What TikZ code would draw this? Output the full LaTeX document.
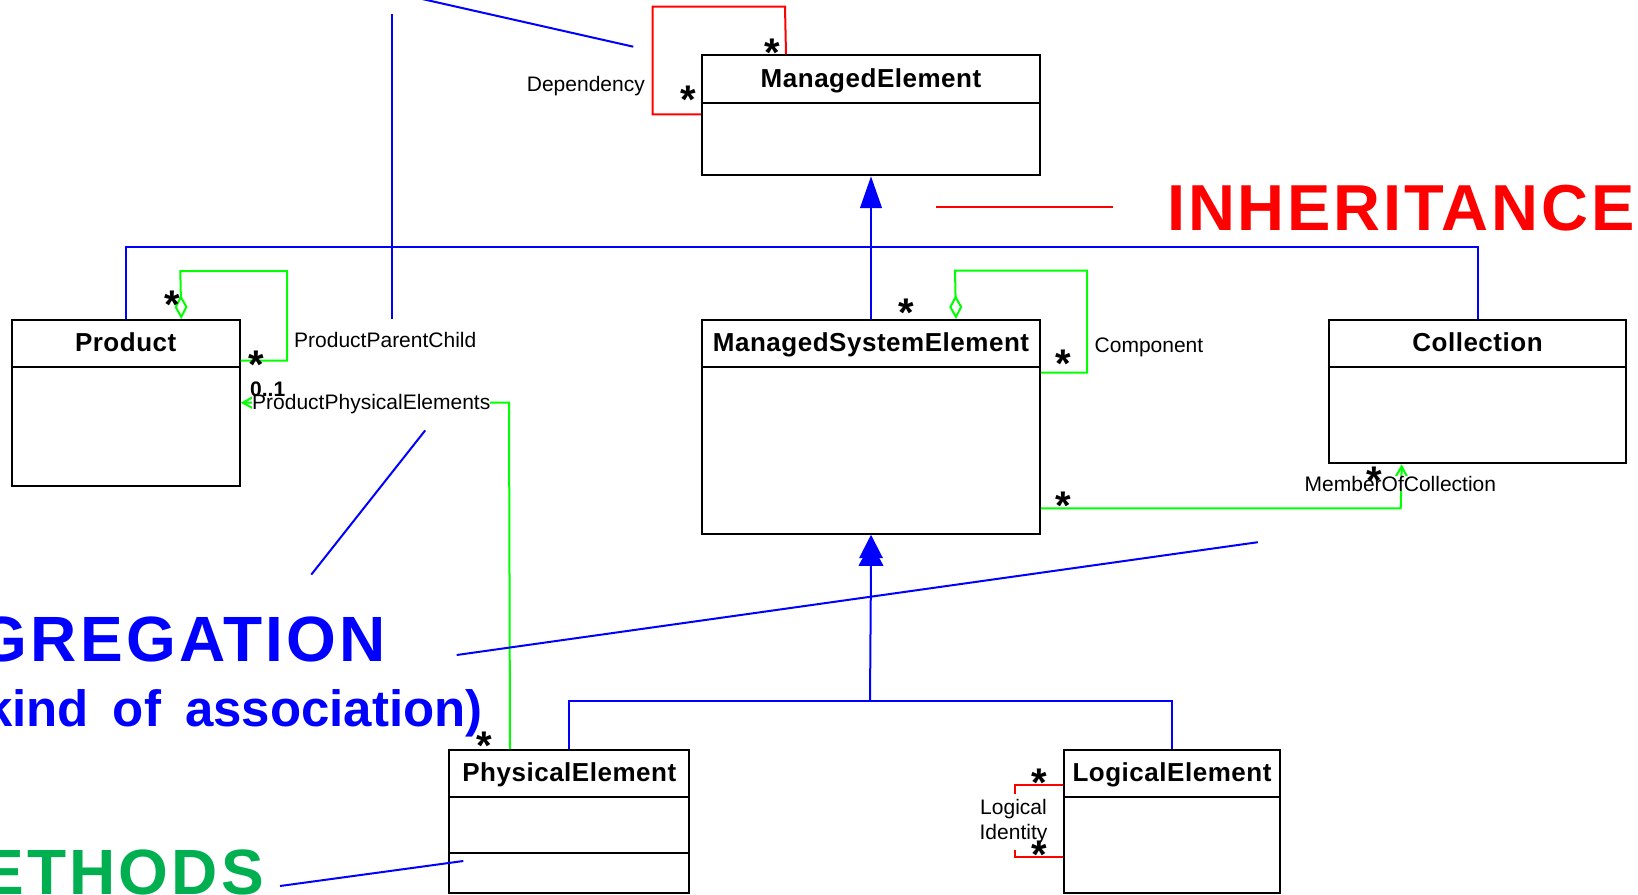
\documentclass[tikz,border=0pt]{standalone}
\usepackage{fontspec}
\setmainfont{Liberation Sans}
\newfontfamily\bigsp{Liberation Sans}[LetterSpace=5]
\newfontfamily\inhsp{Liberation Sans}[LetterSpace=4.3]
\newfontfamily\subsp{Liberation Sans}[WordSpace=1.7]
\newfontfamily\clsfont{Liberation Sans}[LetterSpace=2]
\usepackage{graphicx}
\usetikzlibrary{arrows.meta}
\definecolor{lgreen}{RGB}{0,255,0}
\definecolor{mgreen}{RGB}{0,176,80}
\definecolor{ublue}{RGB}{0,0,255}
\definecolor{ured}{RGB}{255,0,0}
\begin{document}
\begin{tikzpicture}[x=1pt,y=-1pt,
 classbox/.style={draw=black, line width=2pt, inner sep=0, anchor=north west, fill=white},
 sepline/.style={draw=black, line width=2pt},
 clsname/.style={font=\clsfont\fontsize{26}{31}\selectfont\bfseries, inner sep=0, anchor=base},
 lbl/.style={font=\fontsize{21}{25}\selectfont, inner sep=0},
 starlbl/.style={font=\fontsize{40}{40}\selectfont\bfseries, inner sep=0, anchor=base, yshift=-23pt},
 inh/.style={draw=ublue, line width=2pt},
 assoc/.style={draw=lgreen, line width=2pt},
 dep/.style={draw=ured, line width=2pt},
 note/.style={draw=ublue, line width=2pt},
 bigtxt/.style={font=\bigsp\fontsize{64}{70}\selectfont\bfseries, inner sep=0},
]
\useasboundingbox (0,0) rectangle (1638,894);

% ---- classes
\node[classbox, minimum width=338pt, minimum height=120pt] (me) at (701,54.3) {};
\draw[sepline] ([yshift=-48.4pt]me.north west) -- ([yshift=-48.4pt]me.north east);
\node[clsname] (met) at ([yshift=-33pt]me.north) {ManagedElement};

\node[classbox, minimum width=228pt, minimum height=165.7pt] (prod) at (10.7,319) {};
\draw[sepline] ([yshift=-47.7pt]prod.north west) -- ([yshift=-47.7pt]prod.north east);
\node[clsname] (prodt) at ([yshift=-32.3pt]prod.north) {Product};

\node[classbox, minimum width=338pt, minimum height=213.8pt] (mse) at (701,319) {};
\draw[sepline] ([yshift=-47.7pt]mse.north west) -- ([yshift=-47.7pt]mse.north east);
\node[clsname] (mset) at ([yshift=-32.3pt]mse.north) {ManagedSystemElement};

\node[classbox, minimum width=297.6pt, minimum height=143.3pt] (coll) at (1327.7,319) {};
\draw[sepline] ([yshift=-47.7pt]coll.north west) -- ([yshift=-47.7pt]coll.north east);
\node[clsname] (collt) at ([yshift=-32.3pt]coll.north) {Collection};

\node[classbox, minimum width=240pt, minimum height=143.3pt] (pe) at (448.3,749) {};
\draw[sepline] ([yshift=-47.7pt]pe.north west) -- ([yshift=-47.7pt]pe.north east);
\draw[sepline] ([yshift=-103.7pt]pe.north west) -- ([yshift=-103.7pt]pe.north east);
\node[clsname] (pet) at ([yshift=-32.3pt]pe.north) {PhysicalElement};

\node[classbox, minimum width=215.4pt, minimum height=143.3pt] (le) at (1063.3,749) {};
\draw[sepline] ([yshift=-47.7pt]le.north west) -- ([yshift=-47.7pt]le.north east);
\node[clsname] (let) at ([yshift=-32.3pt]le.north) {LogicalElement};

% ---- inheritance
\coordinate (j1) at (870,246.7);
\draw[inh] (prod.north) |- (j1) -| (coll.north);
\draw[inh, -{Triangle[length=31.7pt,width=21.6pt]}] (mse.north) -- (me.south);
\coordinate (j2) at (870,700.7);
\draw[inh] (pe.north) |- (j2) -| (le.north);
\draw[inh] (j2) -- ([yshift=-30pt]mse.south);
\fill[ublue] (mse.south) -- ([xshift=12pt,yshift=-23.4pt]mse.south) -- ([xshift=-12pt,yshift=-23.4pt]mse.south) -- cycle;
\fill[ublue] ([yshift=-7.7pt]mse.south) -- ([xshift=12.5pt,yshift=-31pt]mse.south) -- ([xshift=-12.5pt,yshift=-31pt]mse.south) -- cycle;

% ---- dependency (red)
\draw[dep] ([yshift=-60pt]me.north west) -- (652.7,114.3) -- (652.7,6.7) -- (785,6.7) -- ([xshift=-85pt]me.north);
\node[lbl, anchor=base east] (deplbl) at (645,91) {Dependency};
\node[starlbl] (s1) at (772.3,43.3) {*};
\node[starlbl] (s2) at (688.3,90.8) {*};

% ---- ProductParentChild
\draw[assoc, -{Diamond[open,length=24pt,width=13pt]}] ([yshift=-41.7pt]prod.north east) -- (287,360.7) -- (287,271) -- (180.3,271) -- ([xshift=55.6pt]prod.north);
\node[lbl, anchor=base west] (ppclbl) at (294,347) {ProductParentChild};
\node[starlbl] (s3) at (172,295) {*};
\node[starlbl] (s4) at (256.3,355.5) {*};

% ---- Component
\draw[assoc, -{Diamond[open,length=24pt,width=13pt]}] ([yshift=-53.7pt]mse.north east) -- (1087,372.7) -- (1087,270.7) -- (955,270.7) -- ([xshift=85pt]mse.north);
\node[lbl, anchor=base west] (complbl) at (1094.5,352.7) {Component};
\node[starlbl] (s5) at (906.7,303.3) {*};
\node[starlbl] (s6) at (1063,354) {*};

% ---- ProductPhysicalElements
\draw[assoc, -{Straight Barb[length=10pt,width=11pt]}] ([xshift=-59.3pt]pe.north) -- (509,402.7) -- ([yshift=-83.7pt]prod.north east);
\node[lbl, anchor=base west, fill=white] (ppelbl) at (252,409.3) {ProductPhysicalElements};
\node[lbl, anchor=base west, font=\fontsize{21}{25}\selectfont\bfseries] (mult01) at (250,396.7) {0..1};
\node[starlbl] (s9) at (484.3,736.7) {*};

% ---- MemberOfCollection
\draw[assoc, -{Straight Barb[length=10pt,width=11pt]}] ([yshift=-189.3pt]mse.north east) -- (1400.7,508.3) -- ([xshift=-75.8pt]coll.south);
\node[lbl, anchor=base west, fill=white] (moclbl) at (1304.5,491) {MemberOfCollection};
\node[starlbl] (s7) at (1063,496.7) {*};
\node[starlbl] (s8) at (1374.7,471.7) {*};

% ---- LogicalIdentity
\draw[dep] ([yshift=-36pt]le.north west) -- (1015,785) -- (1015,856.7) -- ([yshift=-107.7pt]le.north west);
\node[lbl, align=center, fill=white, inner ysep=6pt, inner xsep=1pt] (lilbl) at (1013.5,822) {Logical\\Identity};
\node[starlbl] (s10) at (1038.8,773.3) {*};
\node[starlbl] (s11) at (1039.3,845) {*};

% ---- annotation pointers
\coordinate (n1a) at (392.3,14.3);
\coordinate (n1b) at (392.3,319);
\draw[note] (n1a) -- (n1b);
\coordinate (n2a) at (420,-1.5);
\coordinate (n2b) at (633.3,46.7);
\draw[note] (n2a) -- (n2b);
\coordinate (n3a) at (311.3,574.6);
\coordinate (n3b) at (425.2,430.4);
\draw[note] (n3a) -- (n3b);
\coordinate (n4a) at (456.7,655);
\coordinate (n4b) at (1257.8,542.2);
\draw[note] (n4a) -- (n4b);
\coordinate (n5a) at (280,886);
\coordinate (n5b) at (463.3,861);
\draw[note] (n5a) -- (n5b);
\coordinate (n6a) at (936,206.7);
\coordinate (n6b) at (1113.3,206.7);
\draw[dep] (n6a) -- (n6b);

% ---- big texts
\node[inner sep=0, anchor=base west, text=ured, font=\inhsp\fontsize{65}{70}\selectfont\bfseries] (inhtxt) at (1167,230.5) {INHERITANCE};
\node[bigtxt, text=ublue, anchor=base east] (aggtxt) at (386.4,661) {GREGATION};
\node[inner sep=0, anchor=base east, text=ublue, font=\subsp\fontsize{51}{60}\selectfont\bfseries] (aggsub) at (483,726.7) {kind of association)};
\node[bigtxt, text=mgreen, anchor=base east] (mtxt) at (264.2,894) {ETHODS};
\end{tikzpicture}
\end{document}
